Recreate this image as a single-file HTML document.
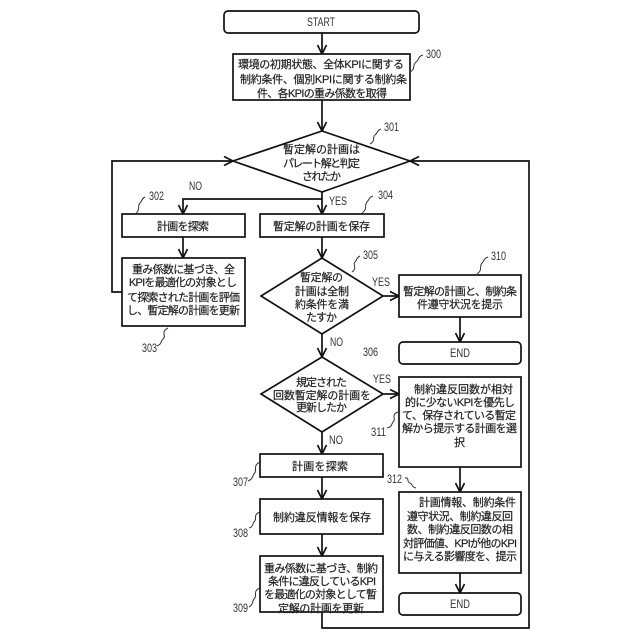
<!DOCTYPE html>
<html><head><meta charset="utf-8"><style>
html,body{margin:0;padding:0;background:#fff}
svg{display:block}
text{font-family:"Liberation Sans","Noto Sans CJK JP",sans-serif;font-size:11px;fill:#222;stroke:#222;stroke-width:.2}
.l{font-size:11.5px;fill:#333;stroke:none}
.s{fill:none;stroke:#333;stroke-width:1}
.b{fill:#fff;stroke:#111;stroke-width:1.7}
.c{fill:none;stroke:#111;stroke-width:1.7}
</style></head><body>
<svg width="640" height="640" viewBox="0 0 640 640" xmlns="http://www.w3.org/2000/svg">
<defs><marker id="a" markerUnits="userSpaceOnUse" markerWidth="12" markerHeight="12" refX="10" refY="6" orient="auto" overflow="visible"><path d="M1,1.5 L10,6 L1,10.5" fill="none" stroke="#111" stroke-width="1.7"/></marker></defs>

<path class="c" d="M322,33V54" marker-end="url(#a)"/>
<path class="c" d="M322,100V131" marker-end="url(#a)"/>
<path class="c" d="M322,192V214" marker-end="url(#a)"/>
<path class="c" d="M322,199H183V214" marker-end="url(#a)"/>
<path class="c" d="M183,237V258" marker-end="url(#a)"/>
<path class="c" d="M122,292H112V161H233" marker-end="url(#a)"/>
<path class="c" d="M322,237V258" marker-end="url(#a)"/>
<path class="c" d="M322,334V357" marker-end="url(#a)"/>
<path class="c" d="M322,432V454" marker-end="url(#a)"/>
<path class="c" d="M322,477V499" marker-end="url(#a)"/>
<path class="c" d="M322,534V556" marker-end="url(#a)"/>
<path class="c" d="M322,612V628H529V161H410" marker-end="url(#a)"/>
<path class="c" d="M383,296H399" marker-end="url(#a)"/>
<path class="c" d="M383,394H399" marker-end="url(#a)"/>
<path class="c" d="M460,317V342" marker-end="url(#a)"/>
<path class="c" d="M460,467V492" marker-end="url(#a)"/>
<path class="c" d="M460,573V593" marker-end="url(#a)"/>

<rect class="b" x="224" y="11" width="195" height="22" rx="4"/>
<rect class="b" x="233" y="54" width="177" height="46"/>
<polygon class="b" points="322,131 410,161 322,192 233,161"/>
<rect class="b" x="122" y="214" width="123" height="23"/>
<rect class="b" x="260" y="214" width="124" height="23"/>
<rect class="b" x="122" y="258" width="123" height="68"/>
<polygon class="b" points="322,258 383,296 322,334 261,296"/>
<polygon class="b" points="322,357 383,394 322,432 261,394"/>
<rect class="b" x="399" y="275" width="122" height="42"/>
<rect class="b" x="399" y="342" width="122" height="22" rx="4"/>
<rect class="b" x="399" y="377" width="122" height="90"/>
<rect class="b" x="399" y="492" width="122" height="81"/>
<rect class="b" x="399" y="593" width="122" height="22" rx="4"/>
<rect class="b" x="260" y="454" width="123" height="23"/>
<rect class="b" x="260" y="499" width="123" height="35"/>
<rect class="b" x="260" y="556" width="123" height="56"/>

<path class="s" d="M410,72C416,69 412,65 416,62C420,59 417,57 423,55"/>
<path class="s" d="M370,144C376,141 372,137 375,135C378,133 376,131 381,129"/>
<path class="s" d="M135,214C141,210 137,206 140,203C143,200 141,199 145,197"/>
<path class="s" d="M168,328C160,332 167,336 163,339C160,342 162,344 157,346"/>
<path class="s" d="M362,213C368,209 364,205 367,202C370,199 368,198 373,196"/>
<path class="s" d="M352,272C358,268 352,264 355,262C357,260 356,258 360,256"/>
<path class="s" d="M477,274C483,270 479,266 482,263C485,260 483,259 488,257"/>
<path class="s" d="M398,412C390,415 397,419 393,422C391,425 392,427 387,428"/>
<path class="s" d="M405,478C410,477 406,482 410,483C413,484 411,487 416,488"/>
<path class="s" d="M260,462C252,466 258,470 254,474C252,477 253,479 248,481"/>
<path class="s" d="M260,512C252,515 258,519 254,522C252,525 253,527 249,528"/>
<path class="s" d="M260,588C252,591 258,596 254,599C252,602 253,605 249,607"/>

<text class="l" x="307" y="26" textLength="28" lengthAdjust="spacingAndGlyphs">START</text>
<text x="238" y="68" textLength="166">環境の初期状態、全体KPIに関する</text>
<text x="240" y="83" textLength="167">制約条件、個別KPIに関する制約条</text>
<text x="257" y="97" textLength="130">件、各KPIの重み係数を取得</text>
<text x="283" y="153" textLength="77">暫定解の計画は</text>
<text x="283" y="167" textLength="77">パレート解と判定</text>
<text x="302" y="180" textLength="39">されたか</text>
<text x="157" y="230" textLength="52">計画を探索</text>
<text x="273" y="230" textLength="97">暫定解の計画を保存</text>
<text x="132" y="273" textLength="103">重み係数に基づき、全</text>
<text x="129" y="286" textLength="108">KPIを最適化の対象とし</text>
<text x="127" y="301" textLength="113">て探索された計画を評価</text>
<text x="127" y="314" textLength="113">し、暫定解の計画を更新</text>
<text x="300" y="281" textLength="43">暫定解の</text>
<text x="295" y="295" textLength="54">計画は全制</text>
<text x="295" y="308" textLength="54">約条件を満</text>
<text x="306" y="321" textLength="31">たすか</text>
<text x="296" y="386" textLength="51">規定された</text>
<text x="273" y="399" textLength="98">回数暫定解の計画を</text>
<text x="296" y="411" textLength="51">更新したか</text>
<text x="403" y="295" textLength="114">暫定解の計画と、制約条</text>
<text x="417" y="308" textLength="86">件遵守状況を提示</text>
<text class="l" x="450" y="357" textLength="20" lengthAdjust="spacingAndGlyphs">END</text>
<text x="414" y="393" textLength="99">制約違反回数が相対</text>
<text x="405" y="406" textLength="110">的に少ないKPIを優先し</text>
<text x="402" y="419" textLength="114">て、保存されている暫定</text>
<text x="402" y="432" textLength="115">解から提示する計画を選</text>
<text x="454" y="446">択</text>
<text x="419" y="506" textLength="97">計画情報、制約条件</text>
<text x="407" y="520" textLength="106">遵守状況、制約違反回</text>
<text x="407" y="533" textLength="106">数、制約違反回数の相</text>
<text x="403" y="547" textLength="114">対評価値、KPIが他のKPI</text>
<text x="403" y="560" textLength="114">に与える影響度を、提示</text>
<text class="l" x="450" y="608" textLength="20" lengthAdjust="spacingAndGlyphs">END</text>
<text x="292" y="470" textLength="56">計画を探索</text>
<text x="273" y="521" textLength="98">制約違反情報を保存</text>
<text x="264" y="572" textLength="114">重み係数に基づき、制約</text>
<text x="268" y="585" textLength="108">条件に違反しているKPI</text>
<text x="264" y="598" textLength="113">を最適化の対象として暫</text>
<text x="278" y="612" textLength="86">定解の計画を更新</text>

<text class="l" x="426" y="58" textLength="15" lengthAdjust="spacingAndGlyphs">300</text>
<text class="l" x="384" y="131" textLength="15" lengthAdjust="spacingAndGlyphs">301</text>
<text class="l" x="149" y="200" textLength="15" lengthAdjust="spacingAndGlyphs">302</text>
<text class="l" x="142" y="352" textLength="15" lengthAdjust="spacingAndGlyphs">303</text>
<text class="l" x="378" y="199" textLength="15" lengthAdjust="spacingAndGlyphs">304</text>
<text class="l" x="363" y="259" textLength="15" lengthAdjust="spacingAndGlyphs">305</text>
<text class="l" x="363" y="356" textLength="15" lengthAdjust="spacingAndGlyphs">306</text>
<text class="l" x="491" y="260" textLength="15" lengthAdjust="spacingAndGlyphs">310</text>
<text class="l" x="371" y="436" textLength="15" lengthAdjust="spacingAndGlyphs">311</text>
<text class="l" x="387" y="483" textLength="15" lengthAdjust="spacingAndGlyphs">312</text>
<text class="l" x="233" y="486" textLength="15" lengthAdjust="spacingAndGlyphs">307</text>
<text class="l" x="233" y="537" textLength="15" lengthAdjust="spacingAndGlyphs">308</text>
<text class="l" x="233" y="612" textLength="15" lengthAdjust="spacingAndGlyphs">309</text>
<text class="l" x="189" y="190" textLength="13" lengthAdjust="spacingAndGlyphs">NO</text>
<text class="l" x="329" y="205" textLength="18" lengthAdjust="spacingAndGlyphs">YES</text>
<text class="l" x="372" y="286" textLength="18" lengthAdjust="spacingAndGlyphs">YES</text>
<text class="l" x="330" y="346" textLength="13" lengthAdjust="spacingAndGlyphs">NO</text>
<text class="l" x="373" y="383" textLength="18" lengthAdjust="spacingAndGlyphs">YES</text>
<text class="l" x="329" y="444" textLength="14" lengthAdjust="spacingAndGlyphs">NO</text>
</svg>
</body></html>
